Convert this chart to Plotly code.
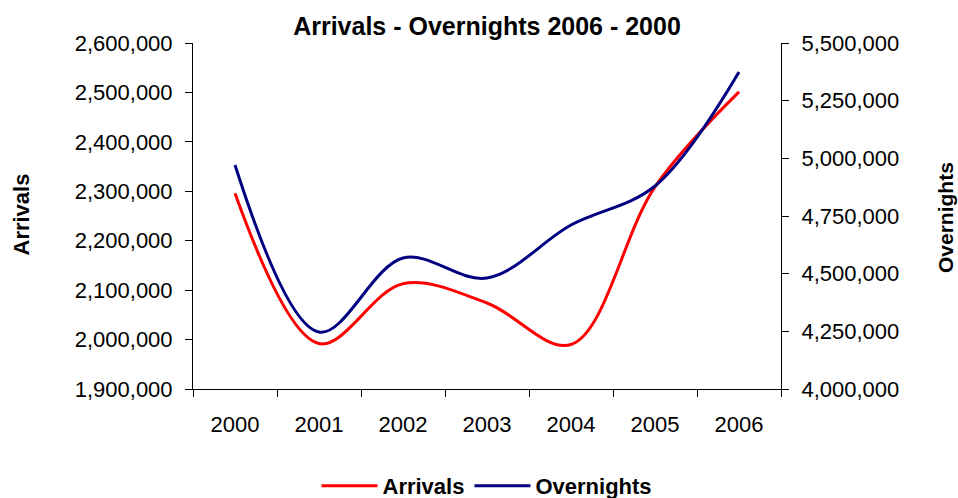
import plotly.graph_objects as go

years = ["2000", "2001", "2002", "2003", "2004", "2005", "2006"]
arrivals = [2296000, 1992000, 2113000, 2074000, 1990000, 2309000, 2501000]
overnights = [4971000, 4247000, 4568000, 4481000, 4711000, 4880000, 5374000]

left_range = [1900000, 2600000]
right_range = [4000000, 5500000]

FONT = "Liberation Sans, Arial, sans-serif"

fig = go.Figure()
fig.add_trace(go.Scatter(x=years, y=arrivals, name="Arrivals", mode="lines",
                         line=dict(color="#FF0000", width=3, shape="spline", smoothing=1),
                         xaxis="x", yaxis="y"))
fig.add_trace(go.Scatter(x=years, y=overnights, name="Overnights", mode="lines",
                         line=dict(color="#000080", width=3, shape="spline", smoothing=1),
                         xaxis="x", yaxis="y2"))

axcommon = dict(showgrid=False, zeroline=False, linecolor="black", linewidth=1,
                tickcolor="black", tickwidth=1, ticklen=7, automargin=False,
                tickfont=dict(family=FONT, size=22, color="black"))

fig.update_layout(
    width=958, height=498,
    margin=dict(l=193, r=177, t=43, b=109, autoexpand=False),
    paper_bgcolor="white", plot_bgcolor="white",
    font=dict(family=FONT, color="black"),
    showlegend=True,
    legend=dict(orientation="h", x=0.5, xanchor="center", xref="paper",
                y=1 - 486 / 498, yref="container", yanchor="middle",
                font=dict(family=FONT, size=22, color="black", weight="bold"),
                itemwidth=56, traceorder="normal"),
    title=dict(text="Arrivals - Overnights 2006 - 2000", x=0.5, xref="paper",
               y=1 - 26 / 498, yref="container", yanchor="middle", xanchor="center",
               font=dict(family=FONT, size=25, color="black", weight="bold")),
    xaxis=dict(type="category", range=[-0.5, 6.5], tickson="boundaries", ticks="outside",
               showline=True, ticklabelstandoff=16, **axcommon),
    xaxis2=dict(overlaying="x", anchor="y", range=[-0.5, 6.5], tickmode="linear",
                tick0=-0.5, dtick=1, ticks="inside", showticklabels=False,
                showline=False, showgrid=False, zeroline=False,
                tickcolor="black", tickwidth=1, ticklen=7),
    yaxis=dict(range=left_range, dtick=100000, tickformat=",d", ticks="outside",
               showline=True, ticklabelstandoff=8, **axcommon),
    yaxis2=dict(range=right_range, dtick=250000, tickformat=",d", ticks="outside",
                overlaying="y", side="right", anchor="x", showline=True,
                ticklabelstandoff=8, **axcommon),
    yaxis3=dict(range=left_range, dtick=100000, overlaying="y", side="left", anchor="x",
                ticks="inside", showticklabels=False, showline=False, showgrid=False,
                zeroline=False, tickcolor="black", tickwidth=1, ticklen=7),
    yaxis4=dict(range=right_range, dtick=250000, overlaying="y", side="right", anchor="x",
                ticks="inside", showticklabels=False, showline=False, showgrid=False,
                zeroline=False, tickcolor="black", tickwidth=1, ticklen=7),
    annotations=[
        dict(text="Arrivals", xref="paper", yref="paper", x=(20.5 - 193) / 588,
             y=(389 - 215) / 346, textangle=-90, showarrow=False,
             xanchor="center", yanchor="middle",
             font=dict(family=FONT, size=22, color="black", weight="bold")),
        dict(text="Overnights", xref="paper", yref="paper", x=(945 - 193) / 588,
             y=(389 - 218) / 346, textangle=-90, showarrow=False,
             xanchor="center", yanchor="middle",
             font=dict(family=FONT, size=21, color="black", weight="bold")),
    ],
)

fig.write_html("out.html")
